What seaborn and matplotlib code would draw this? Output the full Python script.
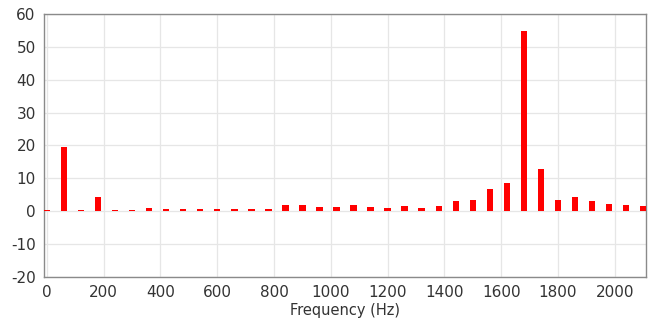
import matplotlib
matplotlib.use("Agg")
import matplotlib.pyplot as plt
import seaborn as sns
import pandas as pd

freqs = [0, 60, 120, 180, 240, 300, 360, 420, 480, 540, 600, 660, 720, 780,
         840, 900, 960, 1020, 1080, 1140, 1200, 1260, 1320, 1380, 1440, 1500,
         1560, 1620, 1680, 1740, 1800, 1860, 1920, 1980, 2040, 2100]
amps = [0.3, 19.5, 0.3, 4.3, 0.3, 0.5, 0.9, 0.8, 0.7, 0.7, 0.7, 0.8, 0.8, 0.8,
        1.8, 1.9, 1.4, 1.3, 1.9, 1.2, 1.0, 1.6, 0.9, 1.7, 3.0, 3.4,
        6.8, 8.6, 54.8, 12.7, 3.5, 4.2, 3.2, 2.3, 1.9, 1.6]
yticks = [-20, -10, 0, 10, 20, 30, 40, 50, 60]
xticks = [0, 200, 400, 600, 800, 1000, 1200, 1400, 1600, 1800, 2000]

df = pd.DataFrame({"freq": freqs, "amp": amps})

sns.set_style("white")
plt.rcParams['font.family'] = ['DejaVu Sans']
plt.rcParams['axes.unicode_minus'] = False

fig = plt.figure(figsize=(6.64, 3.23), dpi=100)
ax = fig.add_axes([0.0663, 0.1424, 0.9067, 0.8143])

sns.barplot(data=df, x="freq", y="amp", native_scale=True, width=0.38,
            color="#ff0000", saturation=1, edgecolor="none", ax=ax, zorder=3)

ax.set_xlim(-10, 2110)
ax.set_ylim(-20, 60)
ax.set_xticks(xticks)
ax.set_yticks(yticks)
ax.grid(True, color="#e6e6e6", linewidth=0.9, zorder=0)
ax.set_axisbelow(True)
for s in ax.spines.values():
    s.set_color("#8a8a8a")
    s.set_linewidth(1.0)
ax.tick_params(axis="both", which="major", direction="out", length=5, width=0.9,
               color="#8a8a8a", labelsize=11, labelcolor="#333333", pad=1)
ax.set_ylabel("")
ax.set_xlabel("Frequency (Hz)", fontsize=10.5, color="#333333", labelpad=2)

fig.savefig("out.png", dpi=100)
